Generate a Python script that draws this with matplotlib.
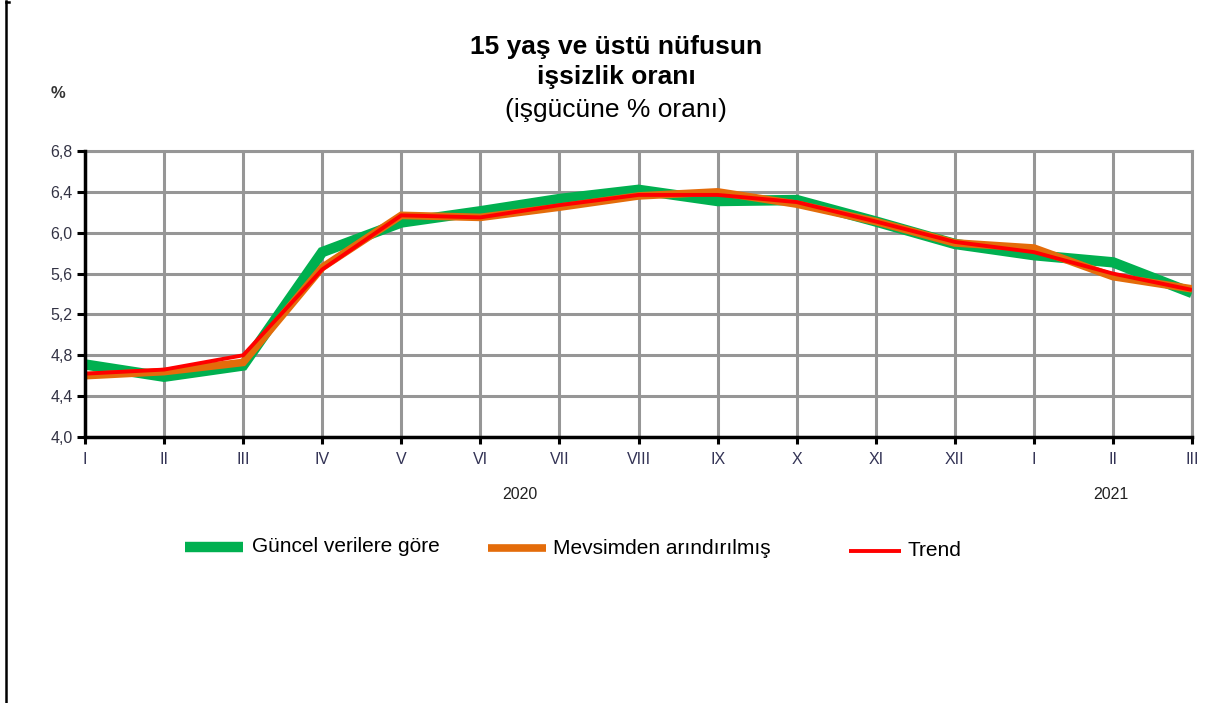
import matplotlib
matplotlib.use("Agg")
import matplotlib.pyplot as plt
from matplotlib.lines import Line2D

plt.rcParams['font.family'] = ['Liberation Sans', 'DejaVu Sans']

months = ["I", "II", "III", "IV", "V", "VI", "VII", "VIII", "IX", "X", "XI", "XII", "I", "II", "III"]
guncel = [4.71, 4.59, 4.70, 5.81, 6.10, 6.21, 6.33, 6.42, 6.31, 6.32, 6.11, 5.89, 5.78, 5.71, 5.41]
mevsim = [4.60, 4.64, 4.73, 5.66, 6.17, 6.15, 6.25, 6.36, 6.40, 6.28, 6.11, 5.90, 5.85, 5.57, 5.45]
trend = [4.62, 4.66, 4.80, 5.64, 6.17, 6.15, 6.27, 6.37, 6.37, 6.30, 6.11, 5.91, 5.81, 5.60, 5.44]
yticks = [4.0, 4.4, 4.8, 5.2, 5.6, 6.0, 6.4, 6.8]
ytick_labels = ["4,0", "4,4", "4,8", "5,2", "5,6", "6,0", "6,4", "6,8"]
years = ["2020", "2021"]
series_labels = ["Güncel verilere göre", "Mevsimden arındırılmış", "Trend"]

W, H = 1221, 703
fig = plt.figure(figsize=(W / 100, H / 100), dpi=100)
ax = fig.add_axes([85 / W, 1 - 437 / H, (1192 - 85) / W, (437 - 151) / H])

x = list(range(len(months)))
c_green, c_orange, c_red = "#00B050", "#E46C0A", "#FF0000"
ax.plot(x, guncel, color=c_green, lw=7.5, solid_joinstyle='miter', solid_capstyle='butt', zorder=3)
ax.plot(x, mevsim, color=c_orange, lw=5.5, solid_joinstyle='miter', solid_capstyle='butt', zorder=4)
ax.plot(x, trend, color=c_red, lw=2.8, solid_joinstyle='miter', solid_capstyle='butt', zorder=5)

ax.set_xlim(0, len(months) - 1)
ax.set_ylim(4.0, 6.8)
ax.set_xticks(x)
ax.set_xticklabels(months)
ax.set_yticks(yticks)
ax.set_yticklabels(ytick_labels)
ax.grid(True, color="#969696", lw=2.2, zorder=0)
ax.set_axisbelow(True)
for s in ["top", "right"]:
    ax.spines[s].set_visible(True)
    ax.spines[s].set_color("#969696")
    ax.spines[s].set_linewidth(2.2)
for s in ["left", "bottom"]:
    ax.spines[s].set_color("black")
    ax.spines[s].set_linewidth(2.5)
    ax.spines[s].set_zorder(6)
ax.tick_params(axis='y', direction='out', length=6, width=2.2, color='black', labelsize=11.5, labelcolor="#333344", pad=3)
ax.tick_params(axis='x', direction='out', length=5, width=2.2, color='black', labelsize=11.5, labelcolor="#333355", pad=6)

# years
ax.text(5.5, -0.2, years[0], transform=ax.get_xaxis_transform(), ha='center', va='center', fontsize=11.5, color="#222222")
ax.text(12.97, -0.2, years[1], transform=ax.get_xaxis_transform(), ha='center', va='center', fontsize=11.5, color="#222222")

# title
fig.text(616 / W, 1 - 47 / H, "15 yaş ve üstü nüfusun", ha='center', va='center', fontsize=19, fontweight='bold')
fig.text(616 / W, 1 - 77 / H, "işsizlik oranı", ha='center', va='center', fontsize=19, fontweight='bold')
fig.text(616 / W, 1 - 110 / H, "(işgücüne % oranı)", ha='center', va='center', fontsize=19)
fig.text(58 / W, 1 - 94 / H, "%", ha='center', va='center', fontsize=12, fontweight='bold', color="#333333")

# legend (manual)
leg = [(185, 243, 547, c_green, 7.5, 252, series_labels[0]),
       (488, 546, 548, c_orange, 5.5, 553, series_labels[1]),
       (849, 901, 551, c_red, 2.8, 908, series_labels[2])]
for x0, x1, yy, col, lw, tx, lab in leg:
    fig.add_artist(Line2D([x0 / W, x1 / W], [1 - yy / H, 1 - yy / H], color=col, lw=lw,
                          solid_capstyle='butt', transform=fig.transFigure))
    fig.text(tx / W, 1 - yy / H, lab, ha='left', va='center', fontsize=15)

# border on the left
fig.add_artist(Line2D([5.5 / W, 5.5 / W], [0, 1 - 1 / H], color='black', lw=1.8, transform=fig.transFigure))
fig.add_artist(Line2D([5.5 / W, 9 / W], [1 - 1.5 / H, 1 - 1.5 / H], color='black', lw=1.8, transform=fig.transFigure))

fig.savefig("out.png", dpi=100, facecolor="white")
